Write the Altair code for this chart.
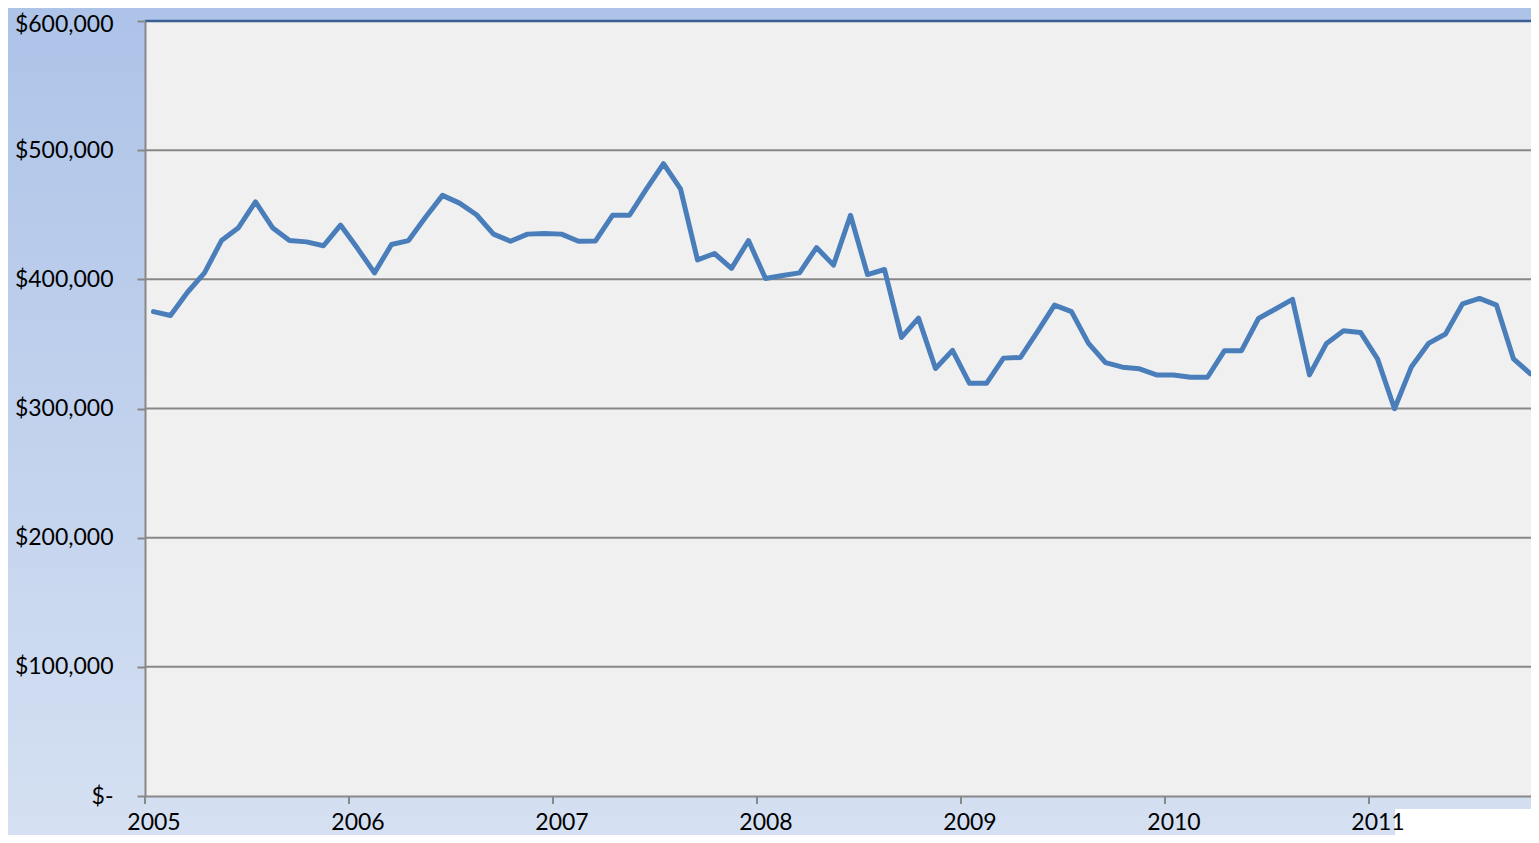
import altair as alt
import pandas as pd

# Monthly values, Jan 2005 .. Oct 2011 (82 months)
start_year = 2005
prices = [
    375000, 372000, 390000, 405000, 430000, 440000, 460000, 440000, 430000, 429000, 426000, 442000,
    424000, 405000, 427000, 430000, 448000, 465000, 459000, 450000, 435000, 429500, 435000, 435500,
    435000, 429500, 429700, 449600, 449600, 470000, 489500, 470000, 415000, 420000, 408500, 430000,
    400600, 403000, 405000, 424600, 411000, 449600, 403700, 407600, 355000, 370000, 331000, 345000,
    319500, 319500, 339000, 339500, 359500, 380000, 375000, 350400, 335500, 332000, 330700, 326000,
    326000, 324200, 324200, 344800, 344800, 369700, 377000, 384500, 326000, 350400, 360200, 358900,
    338400, 299800, 332400, 350400, 357700, 381000, 385200, 380000, 338400, 326800,
]
year_labels = ["2005", "2006", "2007", "2008", "2009", "2010", "2011"]
y_ticks = [0, 100000, 200000, 300000, 400000, 500000, 600000]

W, H = 1386, 775
PL, PT, PB = 137, 13, 39
MONTH_PX = 17
FONT = "Lato"
FS = 23

df = pd.DataFrame({"m": list(range(len(prices))), "price": prices})
label_pos = [12 * i for i in range(len(year_labels))]
boundary = pd.DataFrame({"b": [12 * i - 0.5 for i in range(len(year_labels))]})
grid = pd.DataFrame({"v": y_ticks[1:-1]})
top = pd.DataFrame({"v": [y_ticks[-1]]})
one = pd.DataFrame({"k": [0]})

x_scale = alt.Scale(domain=[-0.5, -0.5 + W / MONTH_PX], nice=False, zero=False)
y_scale = alt.Scale(domain=[0, 600000], nice=False)

label_arr = "[" + ",".join("'" + s + "'" for s in year_labels) + "]"

bg = alt.Chart(one).mark_rect(
    color={
        "gradient": "linear", "x1": 0, "y1": 0, "x2": 0, "y2": 1,
        "stops": [{"offset": 0, "color": "#adc3e8"}, {"offset": 1, "color": "#d5e0f2"}],
    }
).encode(x=alt.value(-PL), x2=alt.value(W), y=alt.value(-PT), y2=alt.value(H + PB))

plotbg = alt.Chart(one).mark_rect(color="#f0f0f0").encode(
    x=alt.value(0), x2=alt.value(W), y=alt.value(0), y2=alt.value(H)
)

gridl = alt.Chart(grid).mark_rule(color="#888888", strokeWidth=2).encode(
    y=alt.Y("v:Q", scale=y_scale)
)

topl = alt.Chart(top).mark_rule(color="#3b5f94", strokeWidth=2.5).encode(
    y=alt.Y("v:Q", scale=y_scale)
)

xticks = alt.Chart(boundary).mark_rule(color="#888888", strokeWidth=2).encode(
    x=alt.X("b:Q", scale=x_scale), y=alt.value(H), y2=alt.value(H + 8)
)

line = alt.Chart(df).mark_line(
    color="#4a7ebb", strokeWidth=5, strokeJoin="round", strokeCap="round"
).encode(
    x=alt.X(
        "m:Q", scale=x_scale, title=None,
        axis=alt.Axis(
            values=label_pos, labelExpr=label_arr + "[round(datum.value/12)]",
            ticks=False, grid=False, domainColor="#888888", domainWidth=2,
            labelFont=FONT, labelFontSize=FS, labelColor="#000000", labelPadding=15,
            labelFlush=False, labelOverlap=False, zindex=1,
        ),
    ),
    y=alt.Y(
        "price:Q", scale=y_scale, title=None,
        axis=alt.Axis(
            values=y_ticks,
            labelExpr="datum.value == 0 ? '$-\u00a0\u00a0\u00a0\u00a0\u00a0' : '$' + format(datum.value, ',')",
            labelOffset={"condition": {"test": "datum.value == 600000", "value": 3}, "value": 0},
            grid=False, tickSize=8, tickWidth=2, tickColor="#888888",
            domainColor="#888888", domainWidth=2,
            labelFont=FONT, labelFontSize=FS, labelColor="#000000", labelPadding=24,
            labelFlush=False, labelOverlap=False, zindex=1,
        ),
    ),
)

logo = alt.Chart(one).mark_rect(color="#ffffff").encode(
    x=alt.value(1250), x2=alt.value(W), y=alt.value(H + 13), y2=alt.value(H + PB)
)

chart = alt.layer(bg, plotbg, gridl, topl, xticks, line, logo).properties(
    width=W, height=H,
    autosize=alt.AutoSizeParams(type="none"),
    padding={"left": PL, "top": PT, "right": 0, "bottom": PB},
).configure_view(stroke=None)

chart.save("out.html", embed_options={"renderer": "svg", "actions": False})
